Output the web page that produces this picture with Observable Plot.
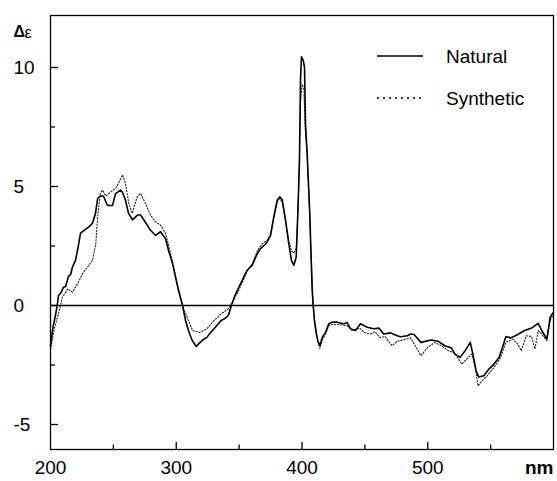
<!DOCTYPE html>
<html>
<head>
<meta charset="utf-8">
<script src="https://cdn.jsdelivr.net/npm/d3@7"></script>
<script src="https://cdn.jsdelivr.net/npm/@observablehq/plot@0.6"></script>
<style>
  html, body { margin: 0; padding: 0; background: #fff; }
  #chart svg { display: block; }
</style>
</head>
<body>
<div id="chart"></div>
<script>
// ---- Data ----
const naturalNm = [200,202,204,205.3,206.4,208.5,210.3,212,214.3,216,217.5,219.9,221.5,223.9,227.8,230.5,233.4,235.8,237.5,239.5,242.1,245.3,249.3,251.7,255.7,257.3,259.6,262,265.2,269.2,271.6,275.5,279.5,283.5,287.5,291.5,293.8,297,299.4,301.8,305,307.4,309.7,312.5,315.9,318,321,324.4,327,330,333,335.7,338.5,341.4,344.2,346.5,348.5,350.5,352.4,354.5,356.4,358.5,360.4,362.5,364.4,366.5,368.4,370.5,372.3,375,377.6,380.3,382.3,384.3,386.9,389.5,391.6,393.5,395.4,396.7,397.5,398,398.8,399.6,401,402,402.8,404.1,405.4,406.2,407,408.1,408.9,409.9,411.5,412.6,414.2,416.1,418.7,421.3,424,428,433.2,435.9,438.6,442.5,446.5,451.8,457.1,461.1,465,470.4,475.7,478.3,483.7,486.4,489.1,494.6,502.7,508.1,513.5,518.9,521.6,525.7,529.7,533.8,535.9,538.4,540.5,544.6,548.6,552.7,556.7,559.4,562.1,566.2,571.6,577,582.5,587.9,590.6,594.7,597.4,600];
const naturalDe = [-1.7,-0.9,-0.4,0,0.42,0.55,0.77,0.8,1.22,1.3,1.62,1.9,2.32,3.04,3.2,3.3,3.46,3.88,4.5,4.6,4.6,4.2,4.2,4.7,4.85,4.75,4.43,3.88,3.6,3.8,3.8,3.5,3.16,2.95,3.1,2.8,2.32,1.77,1.2,0.63,0,-0.63,-1.05,-1.45,-1.72,-1.6,-1.45,-1.34,-1.15,-0.98,-0.8,-0.63,-0.55,-0.42,0.05,0.4,0.63,0.85,1.05,1.3,1.48,1.6,1.69,1.95,2.18,2.35,2.46,2.55,2.67,2.95,3.73,4.43,4.57,4.43,3.59,2.6,1.9,1.69,2.04,3.88,5.27,6.1,9.5,10.45,10.3,10.0,7.6,6.4,4.8,3.88,2.46,0.63,0,-0.63,-1.2,-1.48,-1.69,-1.34,-1.13,-0.77,-0.7,-0.7,-0.77,-0.72,-0.98,-1.05,-0.77,-0.91,-0.98,-0.95,-1.2,-1.15,-1.27,-1.31,-1.27,-1.2,-1.22,-1.55,-1.45,-1.5,-1.69,-1.79,-2.04,-2.18,-1.9,-1.55,-2.04,-2.74,-3.0,-2.95,-2.67,-2.46,-2.18,-1.76,-1.31,-1.36,-1.22,-1.05,-0.95,-0.75,-1.05,-1.41,-0.49,-0.28];

const syntheticNm = [200,203,206,208,209.5,212,213.5,217.5,221.5,225.5,229.5,233.4,236,237.5,239.6,241.4,244,248,252,257.3,259.6,262.3,265,269,271.6,275.5,279.5,283.5,287.5,291.5,295.5,298,300.7,303.4,305.5,308.6,311,313,318.6,324.4,330,335.7,341.4,344.2,347,348.5,352,356.5,360.5,364.5,368.5,372.5,375,377.6,380.3,382.3,384.3,386.9,389.5,391.6,393.5,395.4,396.7,397.5,398.8,400,401.5,402.5,404.1,405.4,407,408.9,410.5,412.6,414.2,416.1,418.7,421.3,424,430,436,440,446,450,454.5,458,462,466,471.5,475.7,478.3,486.4,494.6,500,505.7,511,516.5,521.6,527,531,535,537.8,540,543.2,547.3,552.7,558,562.1,567.5,571.6,574.3,578.4,582.5,585.2,587.9,592,594.7,597.4,600];
const syntheticDe = [-1.85,-1.0,-0.4,0,0.35,0.55,0.7,0.56,0.91,1.34,1.62,1.9,2.6,3.73,4.71,4.85,4.6,4.78,4.92,5.49,5.13,4.29,3.87,4.57,4.71,4.29,3.8,3.51,3.38,3.03,2.18,1.62,0.91,0.35,-0.1,-0.49,-0.8,-1.05,-1.13,-0.98,-0.63,-0.35,-0.14,0.1,0.4,0.5,0.9,1.45,1.75,2.3,2.6,2.75,3.0,3.7,4.35,4.5,4.35,3.55,2.7,2.3,2.2,2.4,3.9,5.2,8.5,9.3,9.1,7.5,6.3,4.7,2.4,0,-0.9,-1.5,-1.8,-1.45,-1.2,-0.85,-0.8,-0.8,-0.85,-1.05,-0.95,-1.15,-1.2,-1.1,-1.35,-1.3,-1.69,-1.5,-1.48,-1.36,-2.11,-1.76,-1.55,-1.7,-1.9,-2.0,-2.46,-2.25,-2.04,-2.6,-3.38,-3.16,-2.95,-2.6,-2.18,-1.55,-1.41,-1.62,-1.9,-1.27,-1.3,-1.83,-1.05,-1.3,-1.48,-0.63,-0.35];

const xTickValues = [200, 300, 400, 500];
const xTickLabels = ["200", "300", "400", "500"];
const xUnitValue = 600;
const xUnitLabel = "nm";
const xMinorTicks = [250, 350, 450, 550];
const yTickValues = [-5, 0, 5, 10];
const yTickLabels = ["-5", "0", "5", "10"];
const yMinorTicks = [-2.5, 2.5, 7.5];
const seriesNames = ["Natural", "Synthetic"];

// ---- Layout ----
const W = 557, H = 481;
const mL = 50, mR = 4, mT = 15, mB = 32;
const xDom = [200, 600];
const yDom = [-6.05, 12.185];
const pxPerX = (W - mL - mR) / (xDom[1] - xDom[0]);
const pxPerY = (H - mT - mB) / (yDom[1] - yDom[0]);
const FONT = "'Liberation Sans', Arial, Helvetica, sans-serif";

const natural = naturalNm.map((nm, i) => ({nm, de: naturalDe[i]}));
const synthetic = syntheticNm.map((nm, i) => ({nm, de: syntheticDe[i]}));

const xTicks = [
  ...xTickValues.slice(1).map(v => ({v, len: 7})),
  ...xMinorTicks.map(v => ({v, len: 4.5}))
];
const yTicks = [
  ...yTickValues.map(v => ({v, len: 8})),
  ...yMinorTicks.map(v => ({v, len: 5}))
];

const chart = Plot.plot({
  width: W,
  height: H,
  marginLeft: mL,
  marginRight: mR,
  marginTop: mT,
  marginBottom: mB,
  style: {background: "#fff", fontFamily: FONT, color: "#000", overflow: "visible"},
  x: {domain: xDom, axis: null},
  y: {domain: yDom, axis: null},
  marks: [
    Plot.ruleY([0], {stroke: "#000", strokeWidth: 1.6}),
    Plot.line(synthetic, {x: "nm", y: "de", stroke: "#222", strokeWidth: 1.1, strokeDasharray: "1.3,1.8"}),
    Plot.line(natural, {x: "nm", y: "de", stroke: "#000", strokeWidth: 1.6}),
    Plot.ruleX(xTicks, {x: "v", y1: yDom[0], y2: d => yDom[0] + d.len / pxPerY, stroke: "#000", strokeWidth: 1.3}),
    Plot.ruleY(yTicks, {y: "v", x1: xDom[0], x2: d => xDom[0] + d.len / pxPerX, stroke: "#000", strokeWidth: 1.3}),
    Plot.frame({stroke: "#000", strokeWidth: 1.3}),
    Plot.text(yTickValues, {
      y: d => d, text: (d, i) => yTickLabels[i], frameAnchor: "left",
      dx: -37, textAnchor: "start", fontSize: 19, fill: "#000"
    }),
    Plot.text(xTickValues, {
      x: d => d, text: (d, i) => xTickLabels[i], frameAnchor: "bottom",
      dy: 24, textAnchor: "middle", fontSize: 19, fill: "#000"
    }),
    Plot.text([xUnitValue], {
      x: d => d, text: () => xUnitLabel, frameAnchor: "bottom",
      dy: 24, textAnchor: "end", fontSize: 19, fontWeight: "bold", fill: "#000"
    }),
    Plot.text(["Δ"], {frameAnchor: "top-left", dx: -37, dy: 10, textAnchor: "start", fontSize: 16, fontWeight: "bold", fill: "#000"}),
    Plot.text(["ε"], {frameAnchor: "top-left", dx: -26, dy: 11, textAnchor: "start", fontSize: 16, fill: "#000"})
  ]
});

document.getElementById("chart").appendChild(chart);

// Legend (inside the plot, top right)
const svg = d3.select(chart);
const lg = svg.append("g")
  .attr("font-family", FONT).attr("font-size", 19).attr("fill", "#000")
  .attr("text-anchor", "start");
const rows = [
  {name: seriesNames[0], lineY: 56, textY: 63, dash: null, width: 1.5},
  {name: seriesNames[1], lineY: 98, textY: 105, dash: "2,4", width: 1.6}
];
rows.forEach(r => {
  const ln = lg.append("line")
    .attr("x1", 377).attr("x2", 423)
    .attr("y1", r.lineY).attr("y2", r.lineY)
    .attr("stroke", "#000").attr("stroke-width", r.width);
  if (r.dash) ln.attr("stroke-dasharray", r.dash);
  lg.append("text").attr("x", 446).attr("y", r.textY)
    .attr("text-anchor", "start").text(r.name);
});
</script>
</body>
</html>
